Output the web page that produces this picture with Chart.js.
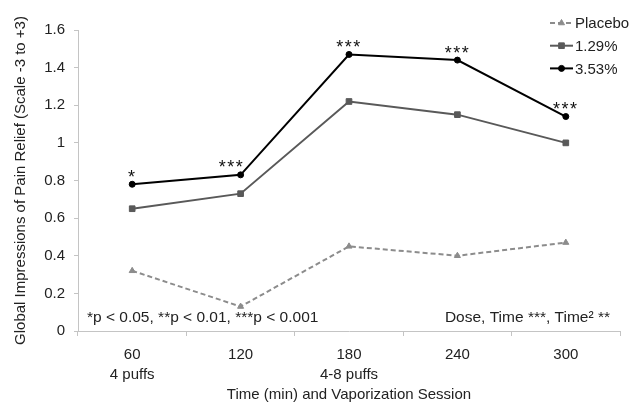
<!DOCTYPE html>
<html lang="en">
<head>
  <meta charset="UTF-8">
  <title>Global Impressions of Pain Relief</title>
  <script src="https://cdn.jsdelivr.net/npm/chart.js"></script>
  <style>
    html, body {
      margin: 0;
      padding: 0;
      background: #fff;
    }

    .chart-container {
      width: 629px;
      height: 408px;
    }
  </style>
</head>
<body>

  <div class="chart-container">
    <canvas id="reliefChart"></canvas>
  </div>

  <script>
    const timeLabels = ["60", "120", "180", "240", "300"];
    const sessionLabels = ["4 puffs", "", "4-8 puffs", "", ""];

    const placebo = [0.32, 0.13, 0.45, 0.40, 0.47];
    const dose129 = [0.65, 0.73, 1.22, 1.15, 1.00];
    const dose353 = [0.78, 0.83, 1.47, 1.44, 1.14];

    // significance stars over the 3.53% line
    const sigMarks = ["*", "***", "***", "***", "***"];

    const pNote = "*p < 0.05, **p < 0.01, ***p < 0.001";
    const effectNote = "Dose, Time ***, Time\u00B2 **";

    const FONT = "'Liberation Sans', Arial, sans-serif";

    const xLabels = timeLabels.map((t, i) => sessionLabels[i] ? [t, sessionLabels[i]] : t);

    const datasets = [
      {
        label: "Placebo",
        data: placebo,
        borderColor: '#8c8c8c',
        backgroundColor: '#8c8c8c',
        borderWidth: 2,
        borderDash: [5, 3],
        pointStyle: 'triangle',
        pointRadius: 3.5,
        pointBorderWidth: 1,
        tension: 0
      },
      {
        label: "1.29%",
        data: dose129,
        borderColor: '#595959',
        backgroundColor: '#595959',
        borderWidth: 2,
        pointStyle: 'rect',
        pointRadius: 4,
        pointBorderWidth: 1,
        tension: 0
      },
      {
        label: "3.53%",
        data: dose353,
        borderColor: '#000000',
        backgroundColor: '#000000',
        borderWidth: 2,
        pointStyle: 'circle',
        pointRadius: 3,
        pointBorderWidth: 1,
        tension: 0
      }
    ];

    // legend drawn inside the plot, top right
    const legendPlugin = {
      id: 'innerLegend',
      afterDraw(chart) {
        const ctx = chart.ctx;
        const x0 = chart.chartArea.right - 70;
        let y = 23;
        ctx.save();
        chart.data.datasets.forEach(ds => {
          ctx.strokeStyle = ds.borderColor;
          ctx.lineWidth = ds.borderWidth;
          ctx.setLineDash(ds.borderDash || []);
          ctx.beginPath();
          ctx.moveTo(x0, y);
          ctx.lineTo(x0 + 23, y);
          ctx.stroke();
          ctx.setLineDash([]);
          ctx.fillStyle = ds.backgroundColor;
          ctx.lineWidth = 1;
          Chart.helpers.drawPoint(ctx, {
            pointStyle: ds.pointStyle,
            radius: ds.pointRadius,
            borderWidth: 1
          }, x0 + 11.5, y);
          ctx.fillStyle = '#222';
          ctx.font = "15px " + FONT;
          ctx.textAlign = 'left';
          ctx.textBaseline = 'middle';
          ctx.fillText(ds.label, x0 + 25, y + 1);
          y += 22.7;
        });
        ctx.restore();
      }
    };

    // stars above points and the two notes
    const notesPlugin = {
      id: 'notes',
      afterDatasetsDraw(chart) {
        const ctx = chart.ctx;
        const area = chart.chartArea;
        const meta = chart.getDatasetMeta(2);
        ctx.save();
        ctx.fillStyle = '#111';
        ctx.font = "18px " + FONT;
        ctx.letterSpacing = '1.5px';
        ctx.textAlign = 'center';
        ctx.textBaseline = 'alphabetic';
        meta.data.forEach((pt, i) => {
          // nudge left where the line climbs steeply right after the point
          const next = dose353[i + 1];
          const shift = (next !== undefined && next - dose353[i] > 0.3) ? -9 : 0;
          ctx.fillText(sigMarks[i], pt.x + shift, pt.y - 1.5);
        });
        ctx.letterSpacing = '0px';

        ctx.font = "15.5px " + FONT;
        ctx.fillStyle = '#222';
        ctx.textBaseline = 'middle';
        ctx.textAlign = 'left';
        ctx.fillText(pNote, area.left + 9, area.bottom - 13);
        ctx.textAlign = 'right';
        ctx.fillText(effectNote, area.right - 10, area.bottom - 13);
        ctx.restore();
      }
    };

    new Chart(document.getElementById("reliefChart").getContext("2d"), {
      type: 'line',
      data: {
        labels: xLabels,
        datasets: datasets
      },
      options: {
        responsive: true,
        maintainAspectRatio: false,
        animation: false,
        layout: {
          padding: { top: 30, right: 9, left: 0, bottom: 0 }
        },
        plugins: {
          legend: { display: false },
          tooltip: { enabled: false }
        },
        scales: {
          x: {
            offset: true,
            afterFit: (scale) => { scale.height = 77; },
            grid: {
              offset: true,
              drawOnChartArea: false,
              tickLength: 5,
              color: '#c4c4c4'
            },
            border: { color: '#c4c4c4', width: 1 },
            ticks: {
              color: '#222',
              padding: 9,
              font: { family: FONT, size: 15, lineHeight: 1.33 }
            },
            title: {
              display: true,
              text: "Time (min) and Vaporization Session",
              color: '#222',
              padding: { top: 4, bottom: 4 },
              font: { family: FONT, size: 15 }
            }
          },
          y: {
            min: 0,
            max: 1.6,
            afterFit: (scale) => { scale.width = 78; },
            grid: {
              drawOnChartArea: false,
              tickLength: 4,
              color: '#c4c4c4'
            },
            border: { color: '#c4c4c4', width: 1 },
            ticks: {
              stepSize: 0.2,
              color: '#222',
              padding: 9,
              font: { family: FONT, size: 15 },
              callback: (v) => String(Number(v.toFixed(1)))
            },
            title: {
              display: true,
              text: "Global Impressions of Pain Relief (Scale -3 to +3)",
              color: '#222',
              padding: { top: 12, bottom: 0 },
              font: { family: FONT, size: 15 }
            }
          }
        }
      },
      plugins: [legendPlugin, notesPlugin]
    });
  </script>

</body>
</html>
